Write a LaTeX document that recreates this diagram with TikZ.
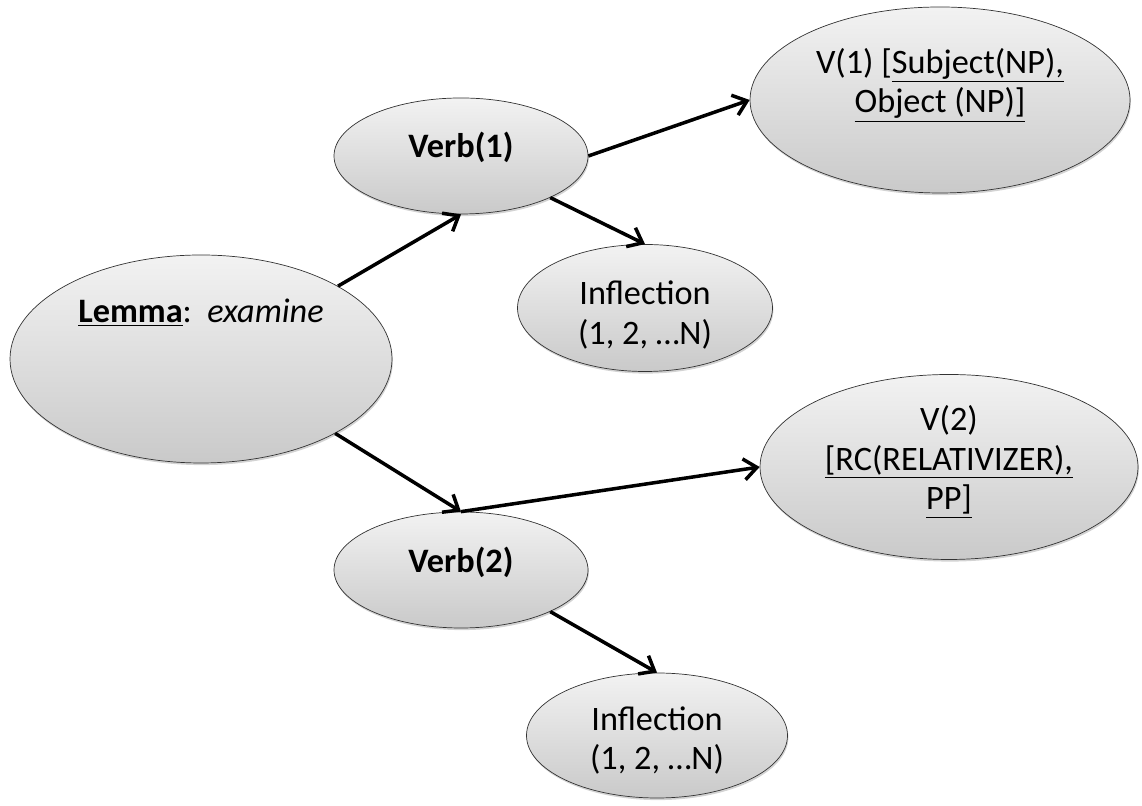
\documentclass[tikz,border=0pt]{standalone}
\usepackage{fontspec}
\setmainfont{Carlito}
\usetikzlibrary{shapes.geometric,shadows,arrows.meta}

\tikzset{%
  bubble/.style={ellipse, draw=black!80, inner sep=0pt,%
    top color=gray!10, bottom color=gray!42,%
    drop shadow={opacity=.35, shadow xshift=.5pt, shadow yshift=-1.2pt}},%
  link/.style={-{Straight Barb[length=2.6mm,width=4.2mm]}, line width=2pt},%
}

\begin{document}
\begin{tikzpicture}[font=\fontsize{19.5}{22.5}\selectfont,%
    every label/.style={align=center}]%
  \useasboundingbox (0,0) rectangle (22.84,16.12);%
  % Lemma and its two readings
  \node[bubble, minimum width=7.64cm, minimum height=4.16cm,%
    label={[yshift=.92cm]center:{\underline{\textbf{Lemma}}:\ \ \textit{examine}}}]%
    (lemma) at (4.02,8.94) {};%
  \node[bubble, minimum width=5.08cm, minimum height=2.32cm,%
    label={[yshift=.18cm]center:{\textbf{Verb(1)}}}]%
    (verbone) at (9.22,13.0) {};%
  \node[bubble, minimum width=5.08cm, minimum height=2.32cm,%
    label={[yshift=.16cm]center:{\textbf{Verb(2)}}}]%
    (verbtwo) at (9.22,4.72) {};%
  % Frames and inflections
  \node[bubble, minimum width=7.6cm, minimum height=3.72cm,%
    label={[yshift=.3cm]center:{V(1) [\underline{Subject(NP),}\\\underline{Object (NP)]}}}]%
    (vone) at (18.8,14.12) {};%
  \node[bubble, minimum width=7.56cm, minimum height=3.7cm,%
    label={[yshift=.1cm]center:{V(2)\\\underline{[RC(RELATIVIZER),}\\\underline{PP]}}}]%
    (vtwo) at (18.98,6.78) {};%
  \node[bubble, minimum width=5.1cm, minimum height=2.54cm,%
    label={[yshift=-.14cm]center:{Inflection\\(1, 2, \dots N)}}]%
    (inflone) at (12.9,9.96) {};%
  \node[bubble, minimum width=5.22cm, minimum height=2.5cm,%
    label={[yshift=-.1cm]center:{Inflection\\(1, 2, \dots N)}}]%
    (infltwo) at (13.14,1.41) {};%
  % Connectors
  \foreach \from/\to in {%
      lemma.28/verbone.south,%
      lemma.-29/verbtwo.north,%
      verbone.east/vone.west,%
      verbone.-25/inflone.north,%
      verbtwo.north/vtwo.west,%
      verbtwo.-25/infltwo.north%
    }{%
      \draw[link] (\from) -- (\to);%
    };%
\end{tikzpicture}
\end{document}
